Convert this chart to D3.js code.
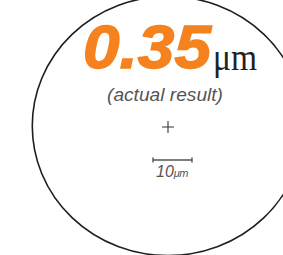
<!DOCTYPE html>
<html>
<head>
<meta charset="utf-8">
<script src="https://cdnjs.cloudflare.com/ajax/libs/d3/7.8.5/d3.min.js"></script>
<style>
  html, body { margin: 0; padding: 0; background: #fff; overflow: hidden; }
  svg { display: block; }
</style>
</head>
<body>
<script>
// values
const resultValues = [0.35];            // measured size, in μm
const resultUnits = ['μm'];
const resultNotes = ['(actual result)'];
const scaleBarValues = [10];            // length of the scale bar, in μm
const fieldRadiusUm = [34.8];           // radius of the field of view, in μm

const w = 283, h = 255;
const cx = 168, cy = 126;

const svg = d3.select('body').append('svg')
  .attr('width', w)
  .attr('height', h);

// μm -> px
const umScale = d3.scaleLinear().domain([0, 10]).range([0, 39]);

// field of view
svg.selectAll('ellipse.field')
  .data(fieldRadiusUm)
  .enter()
  .append('ellipse')
  .attr('class', 'field')
  .attr('cx', cx)
  .attr('cy', cy)
  .attr('rx', d => umScale(d))
  .attr('ry', d => umScale(d) * 0.955)
  .attr('fill', 'none')
  .attr('stroke', '#1e1e1e')
  .attr('stroke-width', 1.6);

// big number
svg.selectAll('text.value')
  .data(resultValues)
  .enter()
  .append('text')
  .attr('class', 'value')
  .attr('x', 83)
  .attr('y', 68)
  .attr('textLength', 128)
  .attr('lengthAdjust', 'spacingAndGlyphs')
  .style('font-family', '"Liberation Sans", Arial, sans-serif')
  .style('font-weight', 'bold')
  .style('font-style', 'italic')
  .style('font-size', '61px')
  .style('fill', '#f5821f')
  .style('stroke', '#f5821f')
  .style('stroke-width', 1.4)
  .text(d => d.toFixed(2));

svg.selectAll('text.unit')
  .data(resultUnits)
  .enter()
  .append('text')
  .attr('class', 'unit')
  .attr('x', 213)
  .attr('y', 70)
  .attr('textLength', 44)
  .attr('lengthAdjust', 'spacingAndGlyphs')
  .style('font-family', '"Liberation Serif", "Times New Roman", serif')
  .style('font-size', '37px')
  .style('fill', '#222')
  .text(d => d);

svg.selectAll('text.note')
  .data(resultNotes)
  .enter()
  .append('text')
  .attr('class', 'note')
  .attr('x', 165)
  .attr('y', 101)
  .attr('textLength', 116)
  .attr('lengthAdjust', 'spacingAndGlyphs')
  .attr('text-anchor', 'middle')
  .style('font-family', '"Liberation Sans", Arial, sans-serif')
  .style('font-style', 'italic')
  .style('font-size', '19px')
  .style('fill', '#555')
  .text(d => d);

// centre cross
svg.append('path')
  .attr('d', `M${cx - 6},${cy + 1}H${cx + 6}M${cx},${cy - 5}V${cy + 7}`)
  .attr('stroke', '#333')
  .attr('stroke-width', 1.1);

// scale bar
const bar = svg.append('g').attr('transform', 'translate(153,160)');
bar.selectAll('path')
  .data(scaleBarValues)
  .enter()
  .append('path')
  .attr('d', d => `M0,-2.5V2.5M0,0H${umScale(d)}M${umScale(d)},-2.5V2.5`)
  .attr('fill', 'none')
  .attr('stroke', '#555')
  .attr('stroke-width', 1.4);

const lbl = bar.selectAll('text')
  .data(scaleBarValues)
  .enter()
  .append('text')
  .attr('x', 3)
  .attr('y', 17)
  .style('font-family', '"Liberation Sans", Arial, sans-serif')
  .style('font-style', 'italic')
  .style('fill', '#555');
lbl.append('tspan').style('font-size', '16px').text(d => d);
lbl.append('tspan').style('font-size', '11px').style('letter-spacing', '-0.5px').text('μm');
</script>
</body>
</html>
